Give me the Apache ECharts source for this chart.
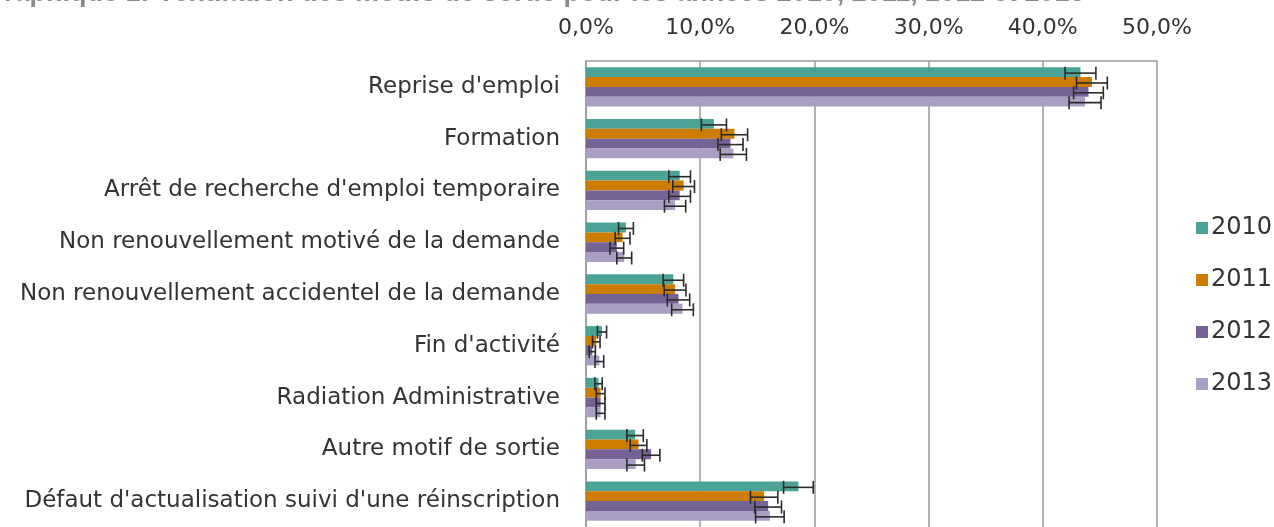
<!DOCTYPE html>
<html><head><meta charset="utf-8">
<script src="https://cdn.jsdelivr.net/npm/echarts@6/dist/echarts.min.js"></script>
<style>html,body{margin:0;padding:0;background:#fff}#c{width:1274px;height:527px}</style>
</head><body><div id="c"></div>
<script>
const titleText = "Graphique 1: Ventilation des motifs de sortie pour les années 2010, 2011, 2012 et 2013";
const categories = ["Reprise d'emploi","Formation","Arrêt de recherche d'emploi temporaire","Non renouvellement motivé de la demande","Non renouvellement accidentel de la demande","Fin d'activité","Radiation Administrative","Autre motif de sortie","Défaut d'actualisation suivi d'une réinscription"];
const years = ["2010","2011","2012","2013"];
const v2010 = [43.3, 11.2, 8.2, 3.5, 7.65, 1.4, 1.1, 4.3, 18.6];
const v2011 = [44.3, 13.0, 8.55, 3.2, 7.8, 0.9, 1.28, 4.6, 15.6];
const v2012 = [44.0, 12.65, 8.2, 2.7, 8.1, 0.55, 1.28, 5.7, 15.95];
const v2013 = [43.7, 12.9, 7.8, 3.35, 8.45, 1.17, 1.28, 4.35, 16.1];
const e2010 = [1.35, 1.1, 0.95, 0.65, 0.9, 0.4, 0.32, 0.72, 1.3];
const e2011 = [1.35, 1.15, 0.95, 0.65, 0.95, 0.33, 0.38, 0.73, 1.2];
const e2012 = [1.3, 1.1, 0.95, 0.6, 0.98, 0.27, 0.38, 0.77, 1.17];
const e2013 = [1.4, 1.15, 0.93, 0.65, 0.95, 0.38, 0.38, 0.77, 1.25];
const xTicks = [0, 10, 20, 30, 40, 50];
const colors = ["#4aa396", "#cc7d00", "#746394", "#aa9fc2"];

const values = [v2010, v2011, v2012, v2013];
const errors = [e2010, e2011, e2012, e2013];
const CAT_GAP = 0.24;

const chart = echarts.init(document.getElementById('c'));
const FONT = "'DejaVu Sans', sans-serif";
const series = [];
years.forEach((y, i) => {
  series.push({
    name: y, type: 'bar', data: values[i], barGap: '0%', barCategoryGap: '24%',
    itemStyle: { color: colors[i] }, silent: true
  });
});
years.forEach((y, i) => {
  series.push({
    name: y + '_err', type: 'custom', silent: true, z: 10,
    data: values[i].map((v, k) => [k, v - errors[i][k], v + errors[i][k]]),
    encode: { y: 0, x: [1, 2] },
    renderItem: function (params, api) {
      const k = api.value(0);
      const lo = api.coord([api.value(1), k]);
      const hi = api.coord([api.value(2), k]);
      const band = api.size([0, 1])[1];
      const w = band * (1 - CAT_GAP) / years.length;
      const yc = lo[1] + (i - (years.length - 1) / 2) * w + 1;
      const cap = 6.5;
      const st = { stroke: '#2b2b2b', lineWidth: 1.6, fill: null };
      return { type: 'group', children: [
        { type: 'line', shape: { x1: lo[0], y1: yc, x2: hi[0], y2: yc }, style: st },
        { type: 'line', shape: { x1: lo[0], y1: yc - cap, x2: lo[0], y2: yc + cap }, style: st },
        { type: 'line', shape: { x1: hi[0], y1: yc - cap, x2: hi[0], y2: yc + cap }, style: st }
      ]};
    }
  });
});

chart.setOption({
  animation: false,
  title: { text: titleText, left: -17, top: -20, padding: 0,
    textStyle: { fontFamily: "'Liberation Sans', Arial, sans-serif", fontSize: 27, fontWeight: 'bold', color: '#8a8a8a' } },
  legend: {
    data: years, orient: 'vertical', left: 1191, top: 211, itemWidth: 12, itemHeight: 12,
    itemGap: 28, icon: 'rect', selectedMode: false,
    textStyle: { fontFamily: FONT, fontSize: 24, color: '#333', padding: [0, 0, 0, -2] }
  },
  grid: { left: 586, right: 117, top: 61, bottom: -6, containLabel: false },
  xAxis: {
    type: 'value', position: 'top', min: xTicks[0], max: xTicks[xTicks.length - 1], interval: 10,
    axisLine: { show: true, lineStyle: { color: '#9a9a9a', width: 1.5 } },
    axisTick: { show: false },
    splitLine: { show: true, lineStyle: { color: '#9a9a9a', width: 1.5 } },
    axisLabel: { margin: 22, fontFamily: FONT, fontSize: 22, color: '#333',
      formatter: v => v.toFixed(1).replace('.', ',') + '%' }
  },
  yAxis: {
    type: 'category', data: categories, inverse: true,
    axisLine: { show: true, lineStyle: { color: '#9a9a9a', width: 1.5 } },
    axisTick: { show: false },
    axisLabel: { margin: 26, fontFamily: FONT, fontSize: 23, color: '#333' }
  },
  series: series
});
</script></body></html>
